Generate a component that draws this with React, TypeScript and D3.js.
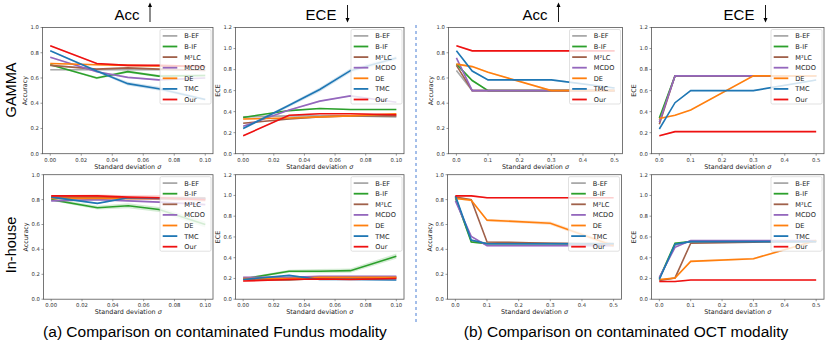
import React from 'react';
import { scaleLinear, line, area, range, format } from 'd3';

const methods = ['B-EF', 'B-IF', 'M²LC', 'MCDO', 'DE', 'TMC', 'Our'];
const methodColors = ['#a9a9a9', '#2ca02c', '#a0614a', '#9467bd', '#ff7f0e', '#1f77b4', '#ee1111'];

const fundusSigma = [0, 0.03, 0.05, 0.07, 0.1];
const octSigma = [0, 0.05, 0.1, 0.3, 0.5];

// rows follow `methods`
const gammaFundusAcc = [
    [0.665, 0.665, 0.665, 0.665, 0.665],
    [0.705, 0.600, 0.650, 0.615, 0.620],
    [0.700, 0.670, 0.680, 0.670, 0.660],
    [0.765, 0.650, 0.605, 0.585, 0.600],
    [0.715, 0.705, 0.700, 0.695, 0.690],
    [0.815, 0.655, 0.555, 0.515, 0.430],
    [0.855, 0.715, 0.700, 0.700, 0.690],
];
const gammaFundusEce = [
    [0.350, 0.360, 0.360, 0.360, 0.350],
    [0.345, 0.410, 0.430, 0.420, 0.420],
    [0.290, 0.330, 0.350, 0.360, 0.360],
    [0.260, 0.415, 0.500, 0.550, 0.490],
    [0.330, 0.340, 0.350, 0.360, 0.380],
    [0.240, 0.460, 0.610, 0.790, 0.910],
    [0.170, 0.365, 0.380, 0.380, 0.370],
];
const gammaOctAcc = [
    [0.660, 0.500, 0.500, 0.500, 0.500],
    [0.710, 0.580, 0.500, 0.500, 0.500],
    [0.700, 0.500, 0.500, 0.500, 0.500],
    [0.760, 0.500, 0.500, 0.500, 0.500],
    [0.710, 0.690, 0.645, 0.500, 0.500],
    [0.815, 0.655, 0.585, 0.585, 0.520],
    [0.855, 0.815, 0.815, 0.815, 0.815],
];
const gammaOctEce = [
    [0.320, 0.740, 0.740, 0.740, 0.740],
    [0.340, 0.740, 0.740, 0.740, 0.740],
    [0.280, 0.740, 0.740, 0.740, 0.740],
    [0.300, 0.740, 0.740, 0.740, 0.740],
    [0.335, 0.365, 0.415, 0.740, 0.740],
    [0.235, 0.485, 0.600, 0.600, 0.700],
    [0.170, 0.210, 0.210, 0.210, 0.210],
];
const inhouseFundusAcc = [
    [0.810, 0.810, 0.810, 0.810, 0.810],
    [0.800, 0.735, 0.750, 0.720, 0.600],
    [0.820, 0.820, 0.810, 0.810, 0.800],
    [0.790, 0.800, 0.790, 0.780, 0.760],
    [0.810, 0.810, 0.810, 0.810, 0.810],
    [0.820, 0.770, 0.815, 0.810, 0.810],
    [0.830, 0.830, 0.820, 0.815, 0.800],
];
const inhouseFundusEce = [
    [0.200, 0.200, 0.200, 0.200, 0.200],
    [0.195, 0.270, 0.270, 0.275, 0.415],
    [0.190, 0.185, 0.200, 0.200, 0.210],
    [0.210, 0.210, 0.220, 0.220, 0.220],
    [0.200, 0.200, 0.210, 0.210, 0.210],
    [0.190, 0.230, 0.190, 0.190, 0.185],
    [0.175, 0.190, 0.195, 0.190, 0.200],
];
const inhouseOctAcc = [
    [0.810, 0.470, 0.450, 0.450, 0.450],
    [0.820, 0.460, 0.445, 0.445, 0.445],
    [0.820, 0.800, 0.460, 0.450, 0.440],
    [0.790, 0.505, 0.430, 0.430, 0.430],
    [0.810, 0.795, 0.635, 0.610, 0.430],
    [0.830, 0.475, 0.445, 0.445, 0.445],
    [0.830, 0.830, 0.815, 0.815, 0.815],
];
const inhouseOctEce = [
    [0.200, 0.520, 0.560, 0.560, 0.560],
    [0.200, 0.540, 0.555, 0.560, 0.560],
    [0.180, 0.205, 0.540, 0.550, 0.555],
    [0.210, 0.500, 0.565, 0.565, 0.565],
    [0.190, 0.205, 0.365, 0.390, 0.565],
    [0.190, 0.530, 0.555, 0.555, 0.555],
    [0.170, 0.170, 0.185, 0.185, 0.185],
];

// visible std bands (others get a thin default)
const stdBands = [
    { panel: 'gammaFundusAcc', method: 'TMC', std: [0.005, 0.01, 0.015, 0.015, 0.01] },
    { panel: 'gammaFundusAcc', method: 'B-IF', std: [0.005, 0.01, 0.01, 0.01, 0.01] },
    { panel: 'gammaFundusEce', method: 'TMC', std: [0.01, 0.015, 0.02, 0.02, 0.02] },
    { panel: 'inhouseFundusAcc', method: 'Our', std: [0.005, 0.01, 0.015, 0.02, 0.02] },
    { panel: 'inhouseFundusAcc', method: 'B-IF', std: [0.01, 0.015, 0.02, 0.02, 0.025] },
    { panel: 'inhouseFundusEce', method: 'B-IF', std: [0.01, 0.015, 0.02, 0.02, 0.025] },
    { panel: 'inhouseOctAcc', method: 'DE', std: [0.005, 0.01, 0.01, 0.015, 0.015] },
    { panel: 'inhouseOctEce', method: 'DE', std: [0.005, 0.01, 0.01, 0.01, 0.01] },
];

const panels = [
    { key: 'gammaFundusAcc', data: gammaFundusAcc, xs: fundusSigma, xMax: 0.1, xStep: 0.02, xFmt: '.2f', yMax: 1, yLabel: 'Accuracy', left: 42.5, right: 213, top: 27.5, bottom: 153.7 },
    { key: 'gammaFundusEce', data: gammaFundusEce, xs: fundusSigma, xMax: 0.1, xStep: 0.02, xFmt: '.2f', yMax: 1.2, yLabel: 'ECE', left: 235.5, right: 404, top: 27.5, bottom: 153.7 },
    { key: 'gammaOctAcc', data: gammaOctAcc, xs: octSigma, xMax: 0.5, xStep: 0.1, xFmt: '.1f', yMax: 1, yLabel: 'Accuracy', left: 448.5, right: 622.5, top: 27.5, bottom: 153.7 },
    { key: 'gammaOctEce', data: gammaOctEce, xs: octSigma, xMax: 0.5, xStep: 0.1, xFmt: '.1f', yMax: 1.2, yLabel: 'ECE', left: 651.5, right: 824, top: 27.5, bottom: 153.7 },
    { key: 'inhouseFundusAcc', data: inhouseFundusAcc, xs: fundusSigma, xMax: 0.1, xStep: 0.02, xFmt: '.2f', yMax: 1, yLabel: 'Accuracy', left: 43.5, right: 213, top: 174.7, bottom: 299.2 },
    { key: 'inhouseFundusEce', data: inhouseFundusEce, xs: fundusSigma, xMax: 0.1, xStep: 0.02, xFmt: '.2f', yMax: 1.2, yLabel: 'ECE', left: 235.5, right: 404, top: 174.7, bottom: 299.2 },
    { key: 'inhouseOctAcc', data: inhouseOctAcc, xs: octSigma, xMax: 0.5, xStep: 0.1, xFmt: '.1f', yMax: 1, yLabel: 'Accuracy', left: 447.5, right: 621.5, top: 174.7, bottom: 299.2 },
    { key: 'inhouseOctEce', data: inhouseOctEce, xs: octSigma, xMax: 0.5, xStep: 0.1, xFmt: '.1f', yMax: 1.2, yLabel: 'ECE', left: 651.5, right: 824, top: 174.7, bottom: 299.2 },
];

const headers = [
    { text: 'Acc', x: 127, arrowX: 150, up: true },
    { text: 'ECE', x: 321, arrowX: 347.5, up: false },
    { text: 'Acc', x: 535, arrowX: 558.5, up: true },
    { text: 'ECE', x: 739, arrowX: 765.5, up: false },
];

const tickFont = 'DejaVu Sans, sans-serif';
const titleFont = 'Liberation Sans, Arial, sans-serif';

const Panel = ({ p }) => {
    const pad = p.xMax * 0.05;
    const x = scaleLinear().domain([-pad, p.xMax + pad]).range([p.left, p.right]);
    const y = scaleLinear().domain([0, p.yMax]).range([p.bottom, p.top]);
    const xTicks = range(0, p.xMax + p.xStep / 2, p.xStep);
    const yTicks = range(0, p.yMax + 0.1, 0.2);
    const fx = format(p.xFmt);
    const fy = format('.1f');

    const lineGen = line().x((d) => x(d[0])).y((d) => y(d[1]));
    const areaGen = area().x((d) => x(d[0])).y0((d) => y(d[1] - d[2])).y1((d) => y(d[1] + d[2]));

    const clipId = 'clip-' + p.key;
    const lgW = 51, lgH = 74.5, lgX = p.right - 2 - lgW, lgY = p.top + 2;

    return (
        <g>
            <defs>
                <clipPath id={clipId}>
                    <rect x={p.left} y={p.top} width={p.right - p.left} height={p.bottom - p.top} />
                </clipPath>
            </defs>
            <g clipPath={`url(#${clipId})`}>
                {p.data.map((vals, i) => {
                    const band = stdBands.find((b) => b.panel === p.key && b.method === methods[i]);
                    const pts = p.xs.map((sx, j) => [sx, vals[j], band ? band.std[j] : 0.006]);
                    return (
                        <g key={methods[i]}>
                            <path d={areaGen(pts)} fill={methodColors[i]} opacity={0.2} />
                            <path d={lineGen(pts)} fill="none" stroke={methodColors[i]} strokeWidth={1.6} />
                        </g>
                    );
                })}
            </g>
            <rect x={p.left} y={p.top} width={p.right - p.left} height={p.bottom - p.top}
                fill="none" stroke="#555" strokeWidth={0.8} />
            {xTicks.map((t) => (
                <g key={'x' + t}>
                    <line x1={x(t)} x2={x(t)} y1={p.bottom} y2={p.bottom + 2} stroke="#555" strokeWidth={0.6} />
                    <text x={x(t)} y={p.bottom + 8} textAnchor="middle" fontSize={5.3} fill="#333" fontFamily={tickFont}>{fx(t)}</text>
                </g>
            ))}
            {yTicks.map((t) => (
                <g key={'y' + t}>
                    <line x1={p.left - 2} x2={p.left} y1={y(t)} y2={y(t)} stroke="#555" strokeWidth={0.6} />
                    <text x={p.left - 3.5} y={y(t) + 1.9} textAnchor="end" fontSize={5.3} fill="#333" fontFamily={tickFont}>{fy(t)}</text>
                </g>
            ))}
            <text x={(p.left + p.right) / 2} y={p.bottom + 14.8} textAnchor="middle" fontSize={6.4} fill="#222" fontFamily={tickFont}>
                Standard deviation <tspan fontStyle="italic">σ</tspan>
            </text>
            <text transform={`translate(${p.left - 16},${(p.top + p.bottom) / 2}) rotate(-90)`} textAnchor="middle"
                fontSize={6.4} fill="#222" fontFamily={tickFont}>{p.yLabel}</text>
            <g>
                <rect x={lgX} y={lgY} width={lgW} height={lgH} rx={1.5} fill="#fff" fillOpacity={0.8} stroke="#ccc" strokeWidth={0.6} />
                {methods.map((m, i) => {
                    const ry = lgY + 6.4 + i * 10.6;
                    return (
                        <g key={m}>
                            <line x1={lgX + 2.7} x2={lgX + 17.3} y1={ry} y2={ry} stroke={methodColors[i]} strokeWidth={1.8} />
                            <text x={lgX + 24.3} y={ry + 2.4} fontSize={6.6} fill="#222" fontFamily={tickFont}>{m}</text>
                        </g>
                    );
                })}
            </g>
        </g>
    );
};

export default function App() {
    return (
        <svg width={830} height={350} style={{ position: 'absolute', left: 0, top: 0, background: '#fff' }}>
            <rect width={830} height={350} fill="#fff" />
            {headers.map((h, i) => (
                <g key={i}>
                    <text x={h.x} y={20} textAnchor="middle" fontSize={15} fontFamily={titleFont} fill="#000">{h.text}</text>
                    {h.up ? (
                        <g>
                            <line x1={h.arrowX} x2={h.arrowX} y1={22} y2={6} stroke="#000" strokeWidth={0.9} />
                            <path d={`M${h.arrowX - 2},${7} L${h.arrowX},${2.5} L${h.arrowX + 2},${7} Z`} fill="#000" />
                        </g>
                    ) : (
                        <g>
                            <line x1={h.arrowX} x2={h.arrowX} y1={5} y2={19} stroke="#000" strokeWidth={0.9} />
                            <path d={`M${h.arrowX - 2},${18} L${h.arrowX},${22.5} L${h.arrowX + 2},${18} Z`} fill="#000" />
                        </g>
                    )}
                </g>
            ))}
            <text transform="translate(16,90) rotate(-90)" textAnchor="middle" fontSize={14.5} fontFamily={titleFont} fill="#000">GAMMA</text>
            <text transform="translate(16,245) rotate(-90)" textAnchor="middle" fontSize={14.5} fontFamily={titleFont} fill="#000">In-house</text>
            {panels.map((p) => <Panel key={p.key} p={p} />)}
            <line x1={416} x2={416} y1={25} y2={325} stroke="#4a7fd4" strokeWidth={1} strokeDasharray="3,3" />
            <text x={215} y={337} textAnchor="middle" fontSize={15.5} fontFamily={titleFont} fill="#000">(a) Comparison on contaminated Fundus modality</text>
            <text x={626} y={337} textAnchor="middle" fontSize={15.5} fontFamily={titleFont} fill="#000">(b) Comparison on contaminated OCT modality</text>
        </svg>
    );
}
